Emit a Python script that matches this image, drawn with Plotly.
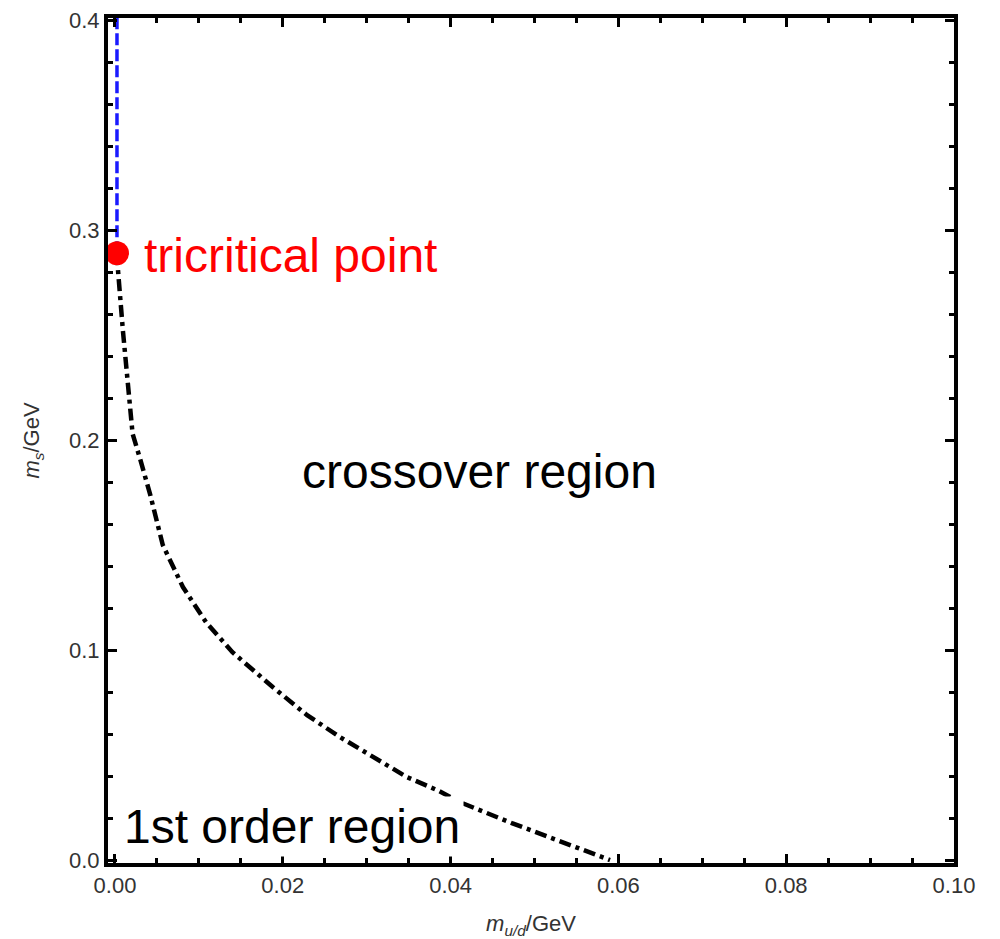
import plotly.graph_objects as go

# boundary between 1st order and crossover region (dash-dot black)
boundary_x = [0.00024, 0.00036, 0.00095, 0.00155, 0.0021, 0.0030, 0.0042, 0.0057, 0.0081,
              0.0109, 0.0140, 0.0188, 0.0229, 0.0268, 0.0308, 0.0348, 0.0384, 0.0414,
              0.0473, 0.0537, 0.0590]
boundary_y = [0.289, 0.281, 0.252, 0.225, 0.203, 0.191, 0.174, 0.150, 0.130,
              0.113, 0.099, 0.0824, 0.0690, 0.0586, 0.0490, 0.0395, 0.0333, 0.0271,
              0.0176, 0.0081, 0.0]

# second order line (blue dashed) above tricritical point
second_x = [0.00024, 0.00024]
second_y = [0.289, 0.401]

# tricritical point
tcp_x = [0.00024]
tcp_y = [0.289]

x_ticks = [0.0, 0.02, 0.04, 0.06, 0.08, 0.10]
x_ticklabels = ["0.00", "0.02", "0.04", "0.06", "0.08", "0.10"]
y_ticks = [0.0, 0.1, 0.2, 0.3, 0.4]
y_ticklabels = ["0.0", "0.1", "0.2", "0.3", "0.4"]

FONT = "Liberation Sans, Arial, sans-serif"

fig = go.Figure()
fig.add_trace(go.Scatter(x=boundary_x, y=boundary_y, mode="lines",
                         line=dict(color="black", width=4.5, dash="12px,5px,4px,5px"),
                         showlegend=False, hoverinfo="skip"))
fig.add_trace(go.Scatter(x=second_x, y=second_y, mode="lines",
                         line=dict(color="#1a1aff", width=3.5, dash="12px,4px"),
                         showlegend=False, hoverinfo="skip"))
fig.add_trace(go.Scatter(x=tcp_x, y=tcp_y, mode="markers",
                         marker=dict(color="#ff0000", size=24),
                         showlegend=False, hoverinfo="skip", cliponaxis=False))

axis_common = dict(
    showline=True, linecolor="black", linewidth=4, mirror="allticks",
    ticks="inside", ticklen=9, tickwidth=3, tickcolor="black",
    showgrid=False, zeroline=False, automargin=False,
    tickfont=dict(family=FONT, size=22, color="#333333"),
)

fig.update_xaxes(range=[-0.00083, 0.1], tickvals=x_ticks, ticktext=x_ticklabels,
                 minor=dict(ticks="inside", dtick=0.005, tick0=0, ticklen=5, tickwidth=3,
                            tickcolor="black", showgrid=False),
                 title=dict(text="<i>m</i><sub><i>u/d</i></sub>/GeV",
                            font=dict(family=FONT, size=22, color="#333333"), standoff=20),
                 **axis_common)
fig.update_yaxes(range=[-0.0014, 0.401], tickvals=y_ticks, ticktext=y_ticklabels,
                 minor=dict(ticks="inside", dtick=0.02, tick0=0, ticklen=5, tickwidth=3,
                            tickcolor="black", showgrid=False),
                 title=dict(text="<i>m</i><sub><i>s</i></sub>/GeV",
                            font=dict(family=FONT, size=22, color="#333333"), standoff=24),
                 **axis_common)

fig.add_annotation(x=0.0032, y=0.288, xref="x", yref="y", text="tricritical point",
                   showarrow=False, xanchor="left", yanchor="middle",
                   font=dict(family=FONT, size=48, color="#ff0000"))
fig.add_annotation(x=0.0435, y=0.185, xref="x", yref="y", text="crossover region",
                   showarrow=False, xanchor="center", yanchor="middle",
                   font=dict(family=FONT, size=48, color="black"))
fig.add_annotation(x=0.0006, y=0.016, xref="x", yref="y", text="1st order region",
                   showarrow=False, xanchor="left", yanchor="middle", bgcolor="white",
                   borderpad=3,
                   font=dict(family=FONT, size=48, color="black"))

fig.update_layout(
    width=1000, height=939,
    margin=dict(l=108, r=46, t=18, b=76),
    paper_bgcolor="white", plot_bgcolor="white",
    showlegend=False,
)

fig.write_html("out.html")
